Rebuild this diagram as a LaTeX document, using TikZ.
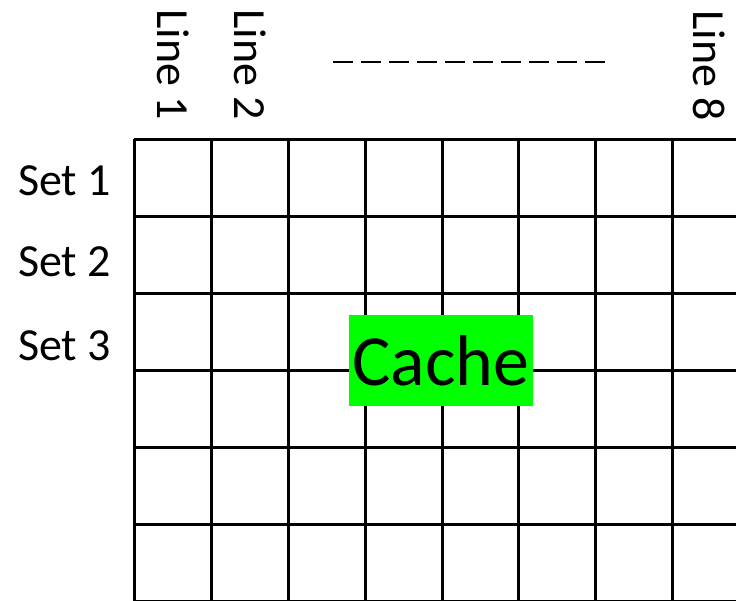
\documentclass[tikz,border=0pt]{standalone}
\usepackage{fontspec}
\setmainfont{Carlito}
\definecolor{cachegreen}{RGB}{0,255,0}
\tikzset{
  gridline/.style={line width=3pt, black},
  setlabel/.style={anchor=base west, inner sep=0pt, font=\fontsize{46}{50}\selectfont},
  linelabel/.style={anchor=base west, inner sep=0pt, rotate=-90, font=\fontsize{46}{50}\selectfont},
  cachebox/.style={fill=cachegreen, inner sep=0pt, minimum width=184pt, minimum height=91pt, font=\fontsize{72}{80}\selectfont},
  dashline/.style={line width=2.5pt, dash pattern=on 20pt off 8pt}
}
\begin{document}
\begin{tikzpicture}[x=1pt,y=-1pt]
\useasboundingbox (0,0) rectangle (736,600);
\clip (0,0) rectangle (736,600);
% grid
\foreach \x in {134,211,288,365,442,518,595,672}
  \draw[gridline] (\x,139) -- (\x,605);
\foreach \y in {139,216,293,370,447,524,601}
  \draw[gridline] (134,\y) -- (745,\y);
% set labels
\node[setlabel] (s1) at (18,195) {Set 1};
\node[setlabel] (s2) at (18,276) {Set 2};
\node[setlabel] (s3) at (18,360) {Set 3};
% line labels
\node[linelabel] (l1) at (157,9) {Line 1};
\node[linelabel] (l2) at (234,9) {Line 2};
\node[linelabel] (l8) at (693,10) {Line 8};
% dashed ellipsis
\coordinate (da) at (333,62);
\coordinate (db) at (612,62);
\draw[dashline] (da) -- (db);
% cache label
\node[cachebox] (cache) at (441,360.5) {Cache};
\end{tikzpicture}
\end{document}
